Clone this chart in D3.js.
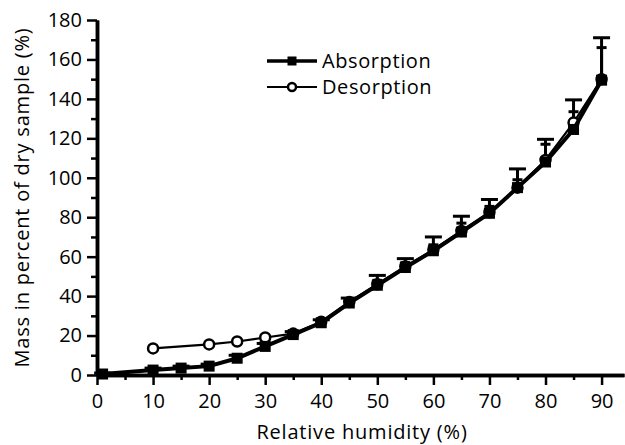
<!DOCTYPE html>
<html>
<head>
<meta charset="utf-8">
<script src="https://d3js.org/d3.v7.min.js"></script>
<style>
    body { margin: 0; background: #fff; }
    text { font-family: 'Open Sans', sans-serif; fill: #000; }
</style>
</head>
<body>
<div id="chart"></div>
<script>
// Data
let humidityAbs = [1, 10, 15, 20, 25, 30, 35, 40, 45, 50, 55, 60, 65, 70, 75, 80, 85, 90];
let absorption = [0.5, 2.5, 3.5, 4.5, 8.5, 14.5, 20.5, 26.5, 36.5, 45.5, 54.5, 63, 72.5, 82, 95, 108, 124.5, 149.5];
let absorptionErr = [0.5, 1, 1, 1, 1.5, 1.5, 1.5, 1.5, 2.5, 5, 4.5, 7, 8, 7, 9.5, 11.5, 15, 21.5];

let humidityDes = [10, 20, 25, 30, 35, 40, 45, 50, 55, 60, 65, 70, 75, 80, 85, 90];
let desorption = [13.5, 15.5, 17, 19, 21, 27, 37, 46, 55, 63.5, 73, 82.5, 95, 109, 128, 150];
let desorptionErr = [1, 1, 1, 1, 1, 1, 1.5, 2, 2, 2.5, 4, 3, 4, 8, 5.5, 16];

let xTicks = [0, 10, 20, 30, 40, 50, 60, 70, 80, 90];
let xMinorTicks = [5, 15, 25, 35, 45, 55, 65, 75, 85];
let yTicks = [0, 20, 40, 60, 80, 100, 120, 140, 160, 180];
let yMinorTicks = [10, 30, 50, 70, 90, 110, 130, 150, 170];

let seriesNames = ['Absorption', 'Desorption'];

let width = 625,
    height = 445;

const svg = d3.select('#chart')
    .append('svg')
    .attr('width', width)
    .attr('height', height);

// SCALES
let xScale = d3.scaleLinear()
    .domain([0, 94])
    .range([97, 624]);

let yScale = d3.scaleLinear()
    .domain([0, 180])
    .range([375, 20]);

// AXES
let xAxis = d3.axisBottom(xScale).tickValues(xTicks).tickSize(10).tickPadding(9).tickSizeOuter(0);
let xMinor = d3.axisBottom(xScale).tickValues(xMinorTicks).tickSize(5).tickFormat('').tickSizeOuter(0);
let yAxis = d3.axisLeft(yScale).tickValues(yTicks).tickSize(10).tickPadding(5).tickSizeOuter(0);
let yMinor = d3.axisLeft(yScale).tickValues(yMinorTicks).tickSize(6).tickFormat('').tickSizeOuter(0);

function styleAxis(g) {
    g.select('.domain').attr('stroke', '#000').attr('stroke-width', 3.5);
    g.selectAll('.tick line').attr('stroke', '#000').attr('stroke-width', 2.5);
    g.selectAll('.tick text')
        .style('font-family', "'Open Sans', sans-serif")
        .style('font-size', '20px')
        .attr('fill', '#000');
}

svg.append('g')
    .attr('transform', 'translate(0,' + yScale(0) + ')')
    .call(xMinor)
    .call(styleAxis);

svg.append('g')
    .attr('transform', 'translate(' + xScale(0) + ',0)')
    .call(yMinor)
    .call(styleAxis);

svg.append('g')
    .attr('transform', 'translate(0,' + yScale(0) + ')')
    .call(xAxis)
    .call(styleAxis);

svg.append('g')
    .attr('transform', 'translate(' + xScale(0) + ',0)')
    .call(yAxis)
    .call(styleAxis);

// AXIS TITLES
svg.append('text')
    .attr('x', 362)
    .attr('y', 439)
    .attr('text-anchor', 'middle')
    .style('font-size', '20px')
    .style('letter-spacing', '0.8px')
    .text('Relative humidity (%)');

svg.append('text')
    .attr('transform', 'translate(29,' + ((yScale(0) + yScale(180)) / 2) + ') rotate(-90)')
    .attr('text-anchor', 'middle')
    .style('font-size', '20px')
    .style('letter-spacing', '0.8px')
    .text('Mass in percent of dry sample (%)');

// DATA
let absData = humidityAbs.map((h, i) => ({x: h, y: absorption[i], e: absorptionErr[i]}));
let desData = humidityDes.map((h, i) => ({x: h, y: desorption[i], e: desorptionErr[i]}));

let line = d3.line()
    .x(d => xScale(d.x))
    .y(d => yScale(d.y));

// error bars (upper only)
function errorBars(data, capWidth) {
    let g = svg.append('g').attr('stroke', '#000').attr('stroke-width', 3);
    g.selectAll('.bar')
        .data(data).enter()
        .append('line')
        .attr('x1', d => xScale(d.x))
        .attr('x2', d => xScale(d.x))
        .attr('y1', d => yScale(d.y))
        .attr('y2', d => yScale(d.y + d.e));
    g.selectAll('.cap')
        .data(data).enter()
        .append('line')
        .attr('x1', d => xScale(d.x) - capWidth / 2)
        .attr('x2', d => xScale(d.x) + capWidth / 2)
        .attr('y1', d => yScale(d.y + d.e))
        .attr('y2', d => yScale(d.y + d.e));
}

errorBars(absData, 17);
errorBars(desData, 10);

// desorption first, absorption drawn over it
svg.append('path')
    .datum(desData)
    .attr('fill', 'none')
    .attr('stroke', '#000')
    .attr('stroke-width', 2.2)
    .attr('d', line);

svg.selectAll('.circ')
    .data(desData).enter()
    .append('circle')
    .attr('cx', d => xScale(d.x))
    .attr('cy', d => yScale(d.y))
    .attr('r', 5)
    .attr('fill', '#fff')
    .attr('stroke', '#000')
    .attr('stroke-width', 2.5);

svg.append('path')
    .datum(absData)
    .attr('fill', 'none')
    .attr('stroke', '#000')
    .attr('stroke-width', 4)
    .attr('d', line);

svg.selectAll('.sq')
    .data(absData).enter()
    .append('rect')
    .attr('x', d => xScale(d.x) - 5.5)
    .attr('y', d => yScale(d.y) - 5.5)
    .attr('width', 11)
    .attr('height', 11)
    .attr('fill', '#000');

// LEGEND
let legend = svg.append('g');
let legY = [61, 87];

legend.append('line')
    .attr('x1', 267).attr('x2', 317)
    .attr('y1', legY[0]).attr('y2', legY[0])
    .attr('stroke', '#000').attr('stroke-width', 3.5);
legend.append('rect')
    .attr('x', 287.5).attr('y', legY[0] - 4.5)
    .attr('width', 9).attr('height', 9)
    .attr('fill', '#000');

legend.append('line')
    .attr('x1', 267).attr('x2', 317)
    .attr('y1', legY[1]).attr('y2', legY[1])
    .attr('stroke', '#000').attr('stroke-width', 2.2);
legend.append('circle')
    .attr('cx', 292).attr('cy', legY[1])
    .attr('r', 4)
    .attr('fill', '#fff').attr('stroke', '#000').attr('stroke-width', 2.5);

legend.selectAll('.lbl')
    .data(seriesNames).enter()
    .append('text')
    .attr('x', 322)
    .attr('y', (d, i) => legY[i] + 7)
    .style('font-size', '20px')
    .style('letter-spacing', '0.6px')
    .text(d => d);
</script>
</body>
</html>
